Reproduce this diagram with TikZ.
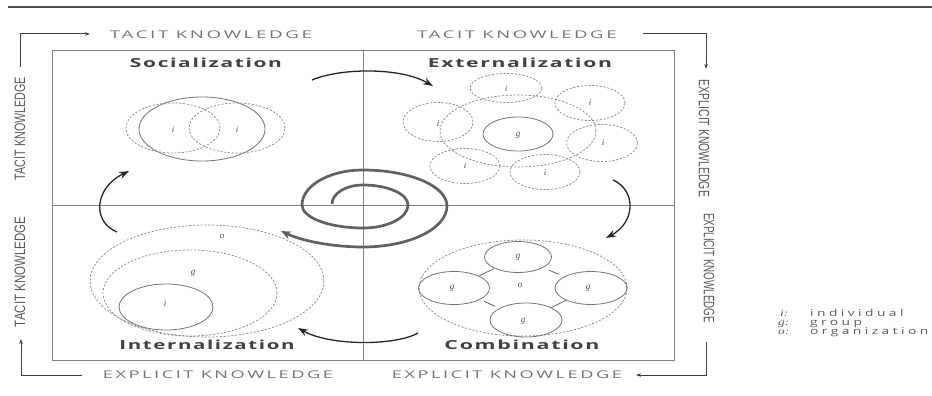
\documentclass[tikz,border=0pt]{standalone}
\usepackage{fontspec}
\usepackage{graphicx}
\setmainfont{Open Sans}
\newfontfamily\capsfont[LetterSpace=14]{Open Sans}
\newfontfamily\titlefont[LetterSpace=8]{Open Sans}
\newfontfamily\condfont{Liberation Sans}
\newfontfamily\labfont{Liberation Serif}
\usetikzlibrary{arrows.meta,shapes.geometric}
\newcommand{\fitbox}[3]{\resizebox{#1}{#2}{#3}}
\newcommand{\legtext}[1]{\scalebox{1.45}[1]{\fontsize{9.5}{9.5}\selectfont\addfontfeature{LetterSpace=25}#1}}
\newcommand{\legkey}[1]{\scalebox{1.4}[1]{\fontsize{9.5}{9.5}\selectfont\labfont\itshape #1}}
\tikzset{
  topline/.style={draw=black!70, line width=2pt},
  quadline/.style={draw=black!50, line width=0.7pt},
  dashell/.style={ellipse, draw=black!45, dash pattern=on 2.2pt off 1.6pt, line width=0.75pt, inner sep=0pt, outer sep=0pt},
  solidell/.style={ellipse, draw=black!55, line width=0.8pt, inner sep=0pt, outer sep=0pt},
  cycarrow/.style={draw=black!85, line width=1.3pt, -{Stealth[length=10pt,width=7pt]}},
  framearrow/.style={draw=black!75, line width=1pt, -{Stealth[length=5pt,width=3.5pt]}},
  capslab/.style={text=black!55, inner sep=0pt},
  vertlab/.style={text=black!65, inner sep=0pt},
  titlelab/.style={text=black!75, inner sep=0pt},
  elab/.style={text=black!70, inner sep=0pt, font=\labfont\itshape\fontsize{9}{9}\selectfont},
  leglab/.style={text=black!65, inner sep=0pt, anchor=base west},
  spiralline/.style={draw=black!62, line width=2.7pt, -{Stealth[length=10pt,width=8pt]}},
  linkline/.style={draw=black!60, line width=0.8pt, shorten <=17pt, shorten >=17pt},
}
\begin{document}
\begin{tikzpicture}[x=1pt,y=-1pt]
\useasboundingbox (0,0) rectangle (932,396);
% top rule
\coordinate (ruleL) at (8,7);
\coordinate (ruleR) at (932,7);
\draw[topline] (ruleL) -- (ruleR);
% main box
\node[quadline, draw, rectangle, minimum width=622pt, minimum height=310pt, inner sep=0pt, outer sep=0pt] (box) at (363,205) {};
\draw[quadline] (box.north) -- (box.south);
\draw[quadline] (box.west) -- (box.east);
% outer frame arrows
\coordinate (tl1) at (20,67); \coordinate (tl2) at (20,34); \coordinate (tl3) at (90,34);
\draw[framearrow] (tl1) -- (tl2) -- (tl3);
\coordinate (tr1) at (643,34); \coordinate (tr2) at (706,34); \coordinate (tr3) at (706,69);
\draw[framearrow] (tr1) -- (tr2) -- (tr3);
\coordinate (br1) at (706,342); \coordinate (br2) at (706,375); \coordinate (br3) at (636,375);
\draw[framearrow] (br1) -- (br2) -- (br3);
\coordinate (bl1) at (82,375); \coordinate (bl2) at (21,375); \coordinate (bl3) at (21,339);
\draw[framearrow] (bl1) -- (bl2) -- (bl3);
% frame labels
\node[capslab] (tk1) at (211,35) {\fitbox{202pt}{7.7pt}{\capsfont TACIT KNOWLEDGE}};
\node[capslab] (tk2) at (517,35) {\fitbox{199pt}{7.7pt}{\capsfont TACIT KNOWLEDGE}};
\node[capslab] (ek1) at (218,375) {\fitbox{230pt}{7.7pt}{\capsfont EXPLICIT KNOWLEDGE}};
\node[capslab] (ek2) at (507,375) {\fitbox{230pt}{7.7pt}{\capsfont EXPLICIT KNOWLEDGE}};
\node[vertlab, rotate=90] (tk3) at (20,128.5) {\fitbox{103pt}{10.5pt}{\condfont TACIT KNOWLEDGE}};
\node[vertlab, rotate=90] (tk4) at (20,272) {\fitbox{110pt}{10.5pt}{\condfont TACIT KNOWLEDGE}};
\node[vertlab, rotate=-90] (ek3) at (704,138.5) {\fitbox{117pt}{10.5pt}{\condfont EXPLICIT KNOWLEDGE}};
\node[vertlab, rotate=-90] (ek4) at (709,268) {\fitbox{110pt}{10.5pt}{\condfont EXPLICIT KNOWLEDGE}};
% titles
\node[titlelab] (tSoc) at (206,63) {\fitbox{152pt}{9.5pt}{\titlefont\bfseries Socialization}};
\node[titlelab] (tExt) at (520,63) {\fitbox{184pt}{9.5pt}{\titlefont\bfseries Externalization}};
\node[titlelab] (tInt) at (207,345) {\fitbox{175pt}{9.5pt}{\titlefont\bfseries Internalization}};
\node[titlelab] (tCom) at (522,345) {\fitbox{155pt}{9.5pt}{\titlefont\bfseries Combination}};
% Socialization
\node[solidell, minimum width=126pt, minimum height=64pt] (sG) at (202,129) {};
\node[dashell, minimum width=94pt, minimum height=50pt] (sI1) at (173,128) {};
\node[dashell, minimum width=96pt, minimum height=50pt] (sI2) at (237,128) {};
\node[elab] (sL1) at (173,130) {i};
\node[elab] (sL2) at (237,130) {i};
% Externalization
\node[dashell, minimum width=156pt, minimum height=72pt] (eG) at (518,131) {};
\node[solidell, minimum width=70pt, minimum height=34pt] (eg) at (518,134) {};
\node[elab] (egL) at (518,135) {g};
\node[dashell, minimum width=72pt, minimum height=29pt] (e1) at (506,88) {};
\node[dashell, minimum width=70pt, minimum height=35pt] (e2) at (590,103) {};
\node[dashell, minimum width=70pt, minimum height=39pt] (e3) at (438,122) {};
\node[dashell, minimum width=71pt, minimum height=37pt] (e4) at (602,143) {};
\node[dashell, minimum width=70pt, minimum height=35pt] (e5) at (465,166) {};
\node[dashell, minimum width=70pt, minimum height=35pt] (e6) at (545,172) {};
\node[elab] (e1L) at (506,89) {i};
\node[elab] (e2L) at (590,103) {i};
\node[elab] (e3L) at (438,124) {i};
\node[elab] (e4L) at (603,143) {i};
\node[elab] (e5L) at (465,166) {i};
\node[elab] (e6L) at (545,173) {i};
% Combination
\node[dashell, minimum width=208pt, minimum height=96pt] (cO) at (523,288) {};
\node[solidell, minimum width=67pt, minimum height=31pt] (cT) at (518,257) {};
\node[solidell, minimum width=71pt, minimum height=33pt] (cLe) at (454,288) {};
\node[solidell, minimum width=72pt, minimum height=33pt] (cR) at (591,288) {};
\node[solidell, minimum width=72pt, minimum height=34pt] (cB) at (526,320) {};
\node[elab] (cTL) at (518,257) {g};
\node[elab] (cLL) at (452,288) {g};
\node[elab] (cRL) at (588,288) {g};
\node[elab] (cBL) at (523,321) {g};
\node[elab] (cOL) at (520,285) {o};
\draw[linkline] (cT) -- (cLe);
\draw[linkline] (cT) -- (cR);
\draw[linkline] (cLe) -- (cB);
\draw[linkline] (cR) -- (cB);
% Internalization
\node[dashell, minimum width=234pt, minimum height=112pt] (iO) at (207,281) {};
\node[dashell, minimum width=174pt, minimum height=86pt] (iG) at (190,293) {};
\node[solidell, minimum width=94pt, minimum height=46pt] (iI) at (166,307) {};
\node[elab] (iOL) at (222,236) {o};
\node[elab] (iGL) at (193,273) {g};
\node[elab] (iIL) at (165,304) {i};
% cycle arrows
\coordinate (a1s) at (312,80); \coordinate (a1e) at (433,86);
\draw[cycarrow] (a1s) .. controls (340,68) and (400,67) .. (a1e);
\coordinate (a2s) at (613,180); \coordinate (a2e) at (606,238);
\draw[cycarrow] (a2s) .. controls (636,190) and (636,222) .. (a2e);
\coordinate (a3s) at (418,333); \coordinate (a3e) at (298,328);
\draw[cycarrow] (a3s) .. controls (395,346) and (330,346) .. (a3e);
\coordinate (a4s) at (117,232); \coordinate (a4e) at (129,171);
\draw[cycarrow] (a4s) .. controls (92,222) and (94,188) .. (a4e);
% spiral
\coordinate (sp0) at (332,204);
\coordinate (sp1) at (363,185);
\coordinate (sp2) at (408,205);
\coordinate (sp3) at (363,228);
\coordinate (sp4) at (302,205);
\coordinate (sp5) at (363,170);
\coordinate (sp6) at (447,206);
\coordinate (sp7) at (363,247);
\coordinate (sp8) at (281,231);
\draw[spiralline] (sp0) .. controls (332,193.5) and (345.9,185) .. (sp1)
  .. controls (387.8,185) and (408,194) .. (sp2)
  .. controls (408,217.7) and (387.8,228) .. (sp3)
  .. controls (329.3,228) and (302,217.7) .. (sp4)
  .. controls (302,185.7) and (329.3,170) .. (sp5)
  .. controls (409.4,170) and (447,186.1) .. (sp6)
  .. controls (447,228.6) and (409.4,247) .. (sp7)
  .. controls (333,247) and (302,241) .. (sp8);
% legend
\node[leglab] (k1) at (780,316) {\legkey{i:}};
\node[leglab] (k2) at (778,325) {\legkey{g:}};
\node[leglab] (k3) at (778,334.5) {\legkey{o:}};
\node[leglab] (v1) at (810,316) {\legtext{individual}};
\node[leglab] (v2) at (810,325) {\legtext{group}};
\node[leglab] (v3) at (810,334.5) {\legtext{organization}};
\end{tikzpicture}
\end{document}
